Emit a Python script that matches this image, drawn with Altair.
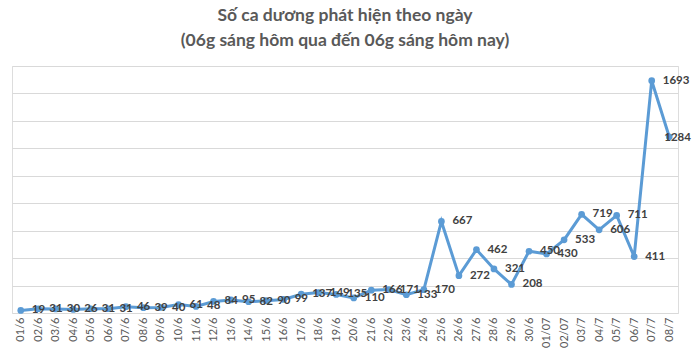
import altair as alt
import pandas as pd

dates = ["01/6","02/6","03/6","04/6","05/6","06/6","07/6","08/6","09/6","10/6",
         "11/6","12/6","13/6","14/6","15/6","16/6","17/6","18/6","19/6","20/6",
         "21/6","22/6","23/6","24/6","25/6","26/6","27/6","28/6","29/6","30/6",
         "01/07","02/07","03/7","04/7","05/7","06/7","07/7","08/7"]
cases = [19,31,30,26,31,31,46,39,40,61,
         48,84,95,82,90,99,137,149,135,110,
         166,171,133,170,667,272,462,321,208,450,
         430,533,719,606,711,411,1693,1284]

df = pd.DataFrame({"date": dates, "cases": cases})
FONT = "Lato"

x = alt.X("date:N", sort=dates, title=None,
          scale=alt.Scale(type="point", padding=0.5),
          axis=alt.Axis(labelAngle=-90, labelColor="#595959", labelFontSize=11,
                        labelFont=FONT, domain=False, ticks=False, labelPadding=4,
                        grid=False, labelBaseline="middle", labelAlign="right"))
y = alt.Y("cases:Q", title=None,
          scale=alt.Scale(domain=[0, 1800], nice=False),
          axis=alt.Axis(values=list(range(0, 1801, 200)), labels=False, ticks=False,
                        domain=False, gridColor="#d9d9d9", gridWidth=1))

base = alt.Chart(df).encode(x=x, y=y)

line = base.mark_line(color="#5B9BD5", strokeWidth=3)
pts = base.mark_circle(color="#5B9BD5", size=45, opacity=1)
labels = base.transform_filter(alt.datum.date != "08/7").mark_text(
    align="left", baseline="middle", dx=11, font=FONT, fontSize=11.5,
    fontWeight="bold", color="#404040").encode(text="cases:Q")
last_label = base.transform_filter(alt.datum.date == "08/7").mark_text(
    align="left", baseline="middle", dx=-5, dy=1, font=FONT, fontSize=11.5,
    fontWeight="bold", color="#404040").encode(text="cases:Q")

chart = (line + pts + labels + last_label).properties(
    width=666, height=247,
    title=alt.TitleParams(
        ["Số ca dương phát hiện theo ngày", "(06g sáng hôm qua đến 06g sáng hôm nay)"],
        font=FONT, fontSize=17.5, fontWeight="bold", color="#595959",
        anchor="middle", offset=17, lineHeight=25),
    autosize=alt.AutoSizeParams(type="none"),
    padding={"left": 12, "top": 66, "right": 14, "bottom": 40},
).configure_view(stroke=None).configure(background="white")

chart.save("out.html", embed_options={"renderer": "svg", "actions": False})
